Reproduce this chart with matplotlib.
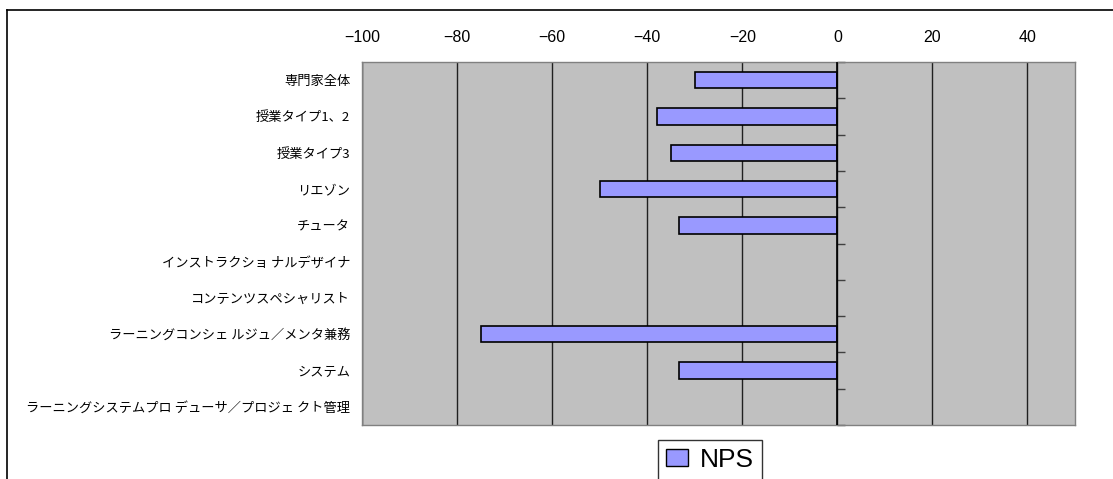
import matplotlib.pyplot as plt
from matplotlib.lines import Line2D
from matplotlib.patches import Patch
import numpy as np

# ---------- data ----------
categories = [
    '専門家全体', '授業タイプ1、2', '授業タイプ3', 'リエゾン', 'チュータ',
    'インストラクショ ナルデザイナ', 'コンテンツスペシャリスト',
    'ラーニングコンシェ ルジュ／メンタ兼務', 'システム',
    'ラーニングシステムプロ デューサ／プロジェ クト管理',
]
nps = [-30, -38, -35, -50, -33.3, np.nan, np.nan, -75, -33.3, np.nan]
x_ticks = [-100, -80, -60, -40, -20, 0, 20, 40]
series_name = 'NPS'

BAR_COLOR = '#9999FF'
PLOT_BG = '#C0C0C0'

plt.rcParams['font.family'] = ['Liberation Sans', 'Noto Sans CJK JP', 'DejaVu Sans']

fig = plt.figure(figsize=(11.13, 4.79), dpi=100)
ax = fig.add_axes([362 / 1113, 54 / 479, 713 / 1113, 363 / 479])
ax.set_facecolor(PLOT_BG)

y = np.arange(len(categories))
ax.barh(y, nps, height=0.45, color=BAR_COLOR, edgecolor='black', linewidth=1.2, zorder=3)

# x axis on top
ax.set_xlim(-100, 50)
ax.set_xticks(x_ticks)
ax.set_xticklabels([str(v).replace('-', '\u2212') for v in x_ticks], fontsize=11.5)
ax.xaxis.tick_top()
ax.tick_params(axis='x', length=0, pad=12)
ax.xaxis.grid(True, color='#202020', linewidth=1.0, zorder=1)
ax.set_axisbelow(True)

# categories
ax.set_ylim(len(categories) - 0.5, -0.5)
ax.set_yticks(y)
ax.set_yticklabels(categories, fontsize=9.5, family=['Noto Sans CJK JP', 'DejaVu Sans'])
ax.tick_params(axis='y', length=0, pad=8.5)

for s in ax.spines.values():
    s.set_color('#808080')
    s.set_linewidth(1.0)

# category axis crossing at zero with boundary ticks
ax.axvline(0, color='black', linewidth=1.2, zorder=4)
xmin, xmax = ax.get_xlim()
sec = ax.secondary_yaxis((0 - xmin) / (xmax - xmin))
sec.set_yticks(np.arange(len(categories) + 1) - 0.5)
sec.yaxis.set_ticks_position('right')
sec.tick_params(axis='y', direction='out', length=6, width=1.0, colors='#404040',
                labelleft=False, labelright=False, left=False, right=True)
for s in sec.spines.values():
    s.set_visible(False)

# legend below the plot
handle = Patch(facecolor=BAR_COLOR, edgecolor='black', linewidth=1.0)
leg = fig.legend([handle], [series_name], loc='upper left',
                 bbox_to_anchor=(658 / 1113, 1 - 440 / 479), fontsize=19,
                 frameon=True, fancybox=False, edgecolor='black',
                 handlelength=0.85, handleheight=0.6, handletextpad=0.45,
                 borderpad=0.3, borderaxespad=0)
leg.get_frame().set_linewidth(1.0)

# chart area border (partially visible)
fig.add_artist(Line2D([7 / 1113, 7 / 1113], [0, 1 - 10 / 479], transform=fig.transFigure,
                      color='black', linewidth=1.2))
fig.add_artist(Line2D([7 / 1113, 1], [1 - 10 / 479, 1 - 10 / 479], transform=fig.transFigure,
                      color='black', linewidth=1.2))

fig.savefig('out.png', dpi=100)
